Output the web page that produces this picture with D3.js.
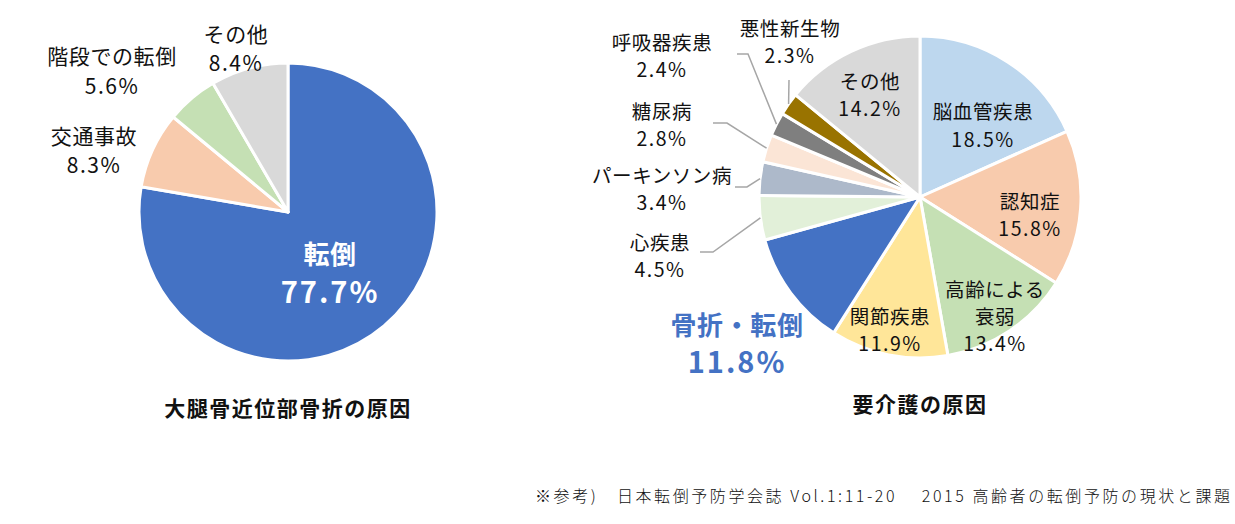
<!DOCTYPE html>
<html>
<head>
<meta charset="utf-8">
<script src="https://cdn.jsdelivr.net/npm/d3@7"></script>
<style>
  body { margin: 0; background: #fff; }
  svg { display: block; font-family: "Noto Sans CJK JP", "Noto Sans", sans-serif; }
</style>
</head>
<body>
<svg id="chart" width="1235" height="524"></svg>
<script>
// left pie: causes of proximal femur fracture
const leftNames = ['転倒', '交通事故', '階段での転倒', 'その他'];
const leftValues = [77.7, 8.3, 5.6, 8.4];
const leftColors = ['#4472C4', '#F8CBAD', '#C5E0B4', '#D9D9D9'];

// right pie: causes of requiring care
const rightNames = ['脳血管疾患', '認知症', '高齢による衰弱', '関節疾患', '骨折・転倒', '心疾患',
  'パーキンソン病', '糖尿病', '呼吸器疾患', '悪性新生物', 'その他'];
const rightValues = [18.5, 15.8, 13.4, 11.9, 11.8, 4.5, 3.4, 2.8, 2.4, 2.3, 14.2];
const rightColors = ['#BDD7EE', '#F8CBAD', '#C5E0B4', '#FFE699', '#4472C4', '#E2F0D9',
  '#ADB9CA', '#FBE5D6', '#7F7F7F', '#997300', '#D9D9D9'];

const svg = d3.select('#chart');

// label layout (text lines + position), keyed by slice index
const leftLabels = [
  { lines: ['転倒'], x: 330, y: 252, big: true, gap: 38 },
  { lines: ['交通事故'], x: 94, y: 135, gap: 29 },
  { lines: ['階段での転倒'], x: 112, y: 55, gap: 30 },
  { lines: ['その他'], x: 236, y: 33, gap: 29 }
];
const rightLabels = [
  { lines: ['脳血管疾患'], x: 983, y: 110, gap: 28 },
  { lines: ['認知症'], x: 1030, y: 200, gap: 27 },
  { lines: ['高齢による', '衰弱'], x: 995, y: 288, gap: 27 },
  { lines: ['関節疾患'], x: 890, y: 315, gap: 27 },
  { lines: ['骨折・転倒'], x: 737, y: 323, big: true, gap: 37, color: '#4472C4' },
  { lines: ['心疾患'], x: 660, y: 241, gap: 27, leader: [[700, 252], [713, 252]] },
  { lines: ['パーキンソン病'], x: 662, y: 174, gap: 27, leader: [[735, 187], [747, 187]] },
  { lines: ['糖尿病'], x: 662, y: 110, gap: 27, leader: [[713, 123], [727, 123]] },
  { lines: ['呼吸器疾患'], x: 662, y: 41, gap: 27, leader: [[737, 54], [748, 54]] },
  { lines: ['悪性新生物'], x: 790, y: 27, gap: 27, leader: [[789, 80]] },
  { lines: ['その他'], x: 870, y: 80, gap: 27 }
];

const fmt = v => d3.format('.1f')(v) + '%';

function drawPie(cx, cy, r, names, values, colors, labels, fontSize, title, titleY) {
  const pie = d3.pie().sort(null).value(d => d)(values);
  const arc = d3.arc().innerRadius(0).outerRadius(r);
  const edge = d3.arc().innerRadius(r).outerRadius(r);
  const g = svg.append('g').attr('transform', `translate(${cx},${cy})`);

  g.selectAll('path')
    .data(pie)
    .enter()
    .append('path')
    .attr('d', arc)
    .attr('fill', (d, i) => colors[i])
    .attr('stroke', '#fff')
    .attr('stroke-width', 3)
    .attr('stroke-linejoin', 'round');

  pie.forEach((d, i) => {
    const lab = labels[i];
    if (lab.leader) {
      const end = edge.centroid(d);
      const pts = lab.leader.map(p => [p[0] - cx, p[1] - cy]).concat([end]);
      g.append('path')
        .attr('d', d3.line()(pts))
        .attr('fill', 'none')
        .attr('stroke', '#A6A6A6')
        .attr('stroke-width', 1.5);
    }
    const lines = lab.lines.concat([fmt(values[i])]);
    const text = svg.append('text')
      .attr('x', lab.x)
      .attr('y', lab.y)
      .attr('text-anchor', 'middle')
      .attr('fill', lab.color || (lab.big ? '#fff' : '#111'))
      .attr('font-weight', lab.big ? 700 : 400);
    lines.forEach((t, k) => {
      const isPct = k === lines.length - 1;
      text.append('tspan')
        .attr('x', lab.x)
        .attr('y', lab.y + k * lab.gap)
        .attr('dominant-baseline', 'central')
        .attr('font-size', lab.big ? (isPct ? 29 : 26) : fontSize)
        .attr('letter-spacing', isPct ? (lab.big ? 2 : 1.5) : 0.6)
        .text(t);
    });
  });

  svg.append('text')
    .attr('x', cx)
    .attr('y', titleY)
    .attr('text-anchor', 'middle')
    .attr('dominant-baseline', 'central')
    .attr('font-weight', 700)
    .attr('font-size', 21)
    .attr('letter-spacing', 1.5)
    .attr('fill', '#111')
    .text(title);
}

drawPie(288, 212, 149, leftNames, leftValues, leftColors, leftLabels, 21, '大腿骨近位部骨折の原因', 407);
drawPie(920, 197, 161, rightNames, rightValues, rightColors, rightLabels, 19.5, '要介護の原因', 403);

svg.append('text')
  .attr('x', 535)
  .attr('y', 495)
  .attr('dominant-baseline', 'central')
  .attr('font-size', 16)
  .attr('font-weight', 300)
  .attr('textLength', 695)
  .attr('lengthAdjust', 'spacing')
  .attr('fill', '#111')
  .text('※参考)　日本転倒予防学会誌 Vol.1:11-20　 2015 高齢者の転倒予防の現状と課題');
</script>
</body>
</html>
